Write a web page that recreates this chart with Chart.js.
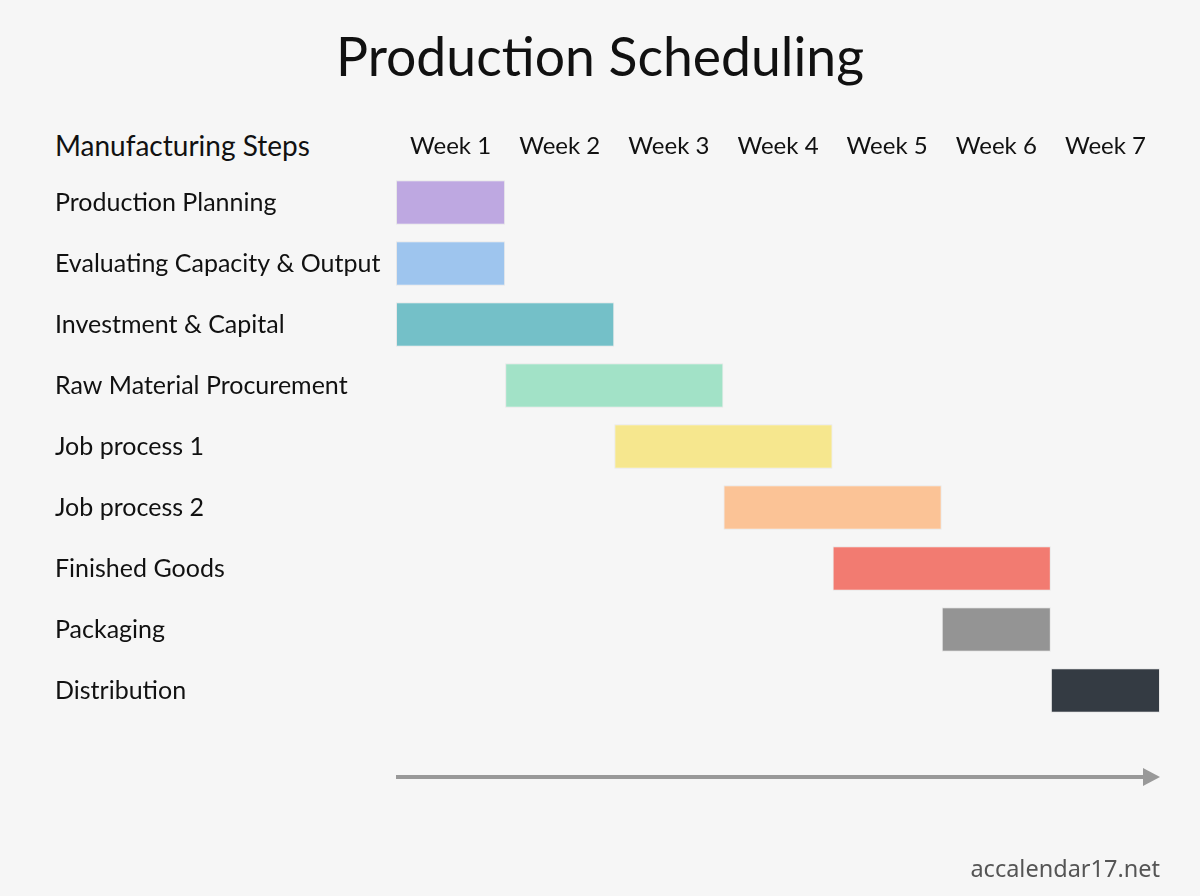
<!DOCTYPE html>
<html>
<head>
<meta charset="utf-8">
<title>Production Scheduling</title>
<script src="https://cdn.jsdelivr.net/npm/chart.js@4/dist/chart.umd.min.js"></script>
<style>
  body { margin: 0; background: #f6f6f6; }
  #wrap { position: relative; width: 1200px; height: 896px; font-family: Lato, 'Open Sans', sans-serif; color: #111; }
  #chart { position: absolute; left: 0; top: 0; }
  .title { position: absolute; top: 23px; left: 0; width: 1200px; text-align: center; font-size: 53.5px; font-weight: 400; }
  .head { position: absolute; top: 128px; left: 55px; font-size: 28px; }
  .mark { position: absolute; right: 40px; top: 852px; font-size: 23.5px; color: #555; font-family: 'Liberation Sans Narrow', 'Noto Sans', sans-serif; }
</style>
</head>
<body>
<div id="wrap">
  <div class="title">Production Scheduling</div>
  <div class="head">Manufacturing Steps</div>
  <canvas id="chart" width="1200" height="896"></canvas>
  <div class="mark">accalendar17.net</div>
</div>
<script>
/* ==================== */
/* 1  Data               */
/* ==================== */
const weekLabels = ['Week 1', 'Week 2', 'Week 3', 'Week 4', 'Week 5', 'Week 6', 'Week 7'];
const steps = [
  'Production Planning',
  'Evaluating Capacity & Output',
  'Investment & Capital',
  'Raw Material Procurement',
  'Job process 1',
  'Job process 2',
  'Finished Goods',
  'Packaging',
  'Distribution'
];
const startWeek = [0, 0, 0, 1, 2, 3, 4, 5, 6];
const endWeek   = [1, 1, 2, 3, 4, 5, 6, 6, 7];
const barColors = ['#bea8e1', '#9ec5ee', '#74c0c8', '#a2e2c7', '#f6e78e', '#fbc396', '#f27b71', '#949494', '#343b43'];

/* ==================== */
/* 2  Arrow plugin       */
/* ==================== */
const timeArrow = {
  id: 'timeArrow',
  afterDraw(chart) {
    const { ctx, scales: { x }, chartArea } = chart;
    const x0 = x.getPixelForValue(0);
    const x1 = x.getPixelForValue(weekLabels.length);
    const y = chartArea.bottom + 56;
    ctx.save();
    ctx.strokeStyle = '#999';
    ctx.fillStyle = '#999';
    ctx.lineWidth = 4;
    ctx.beginPath();
    ctx.moveTo(x0, y);
    ctx.lineTo(x1 - 14, y);
    ctx.stroke();
    ctx.beginPath();
    ctx.moveTo(x1, y);
    ctx.lineTo(x1 - 17, y - 9);
    ctx.lineTo(x1 - 17, y + 9);
    ctx.closePath();
    ctx.fill();
    ctx.restore();
  }
};

/* ==================== */
/* 3  Chart              */
/* ==================== */
new Chart(document.getElementById('chart'), {
  type: 'bar',
  data: {
    labels: steps,
    datasets: [{
      data: steps.map((s, i) => [startWeek[i], endWeek[i]]),
      backgroundColor: barColors,
      borderColor: 'rgba(0,0,0,0.06)',
      borderWidth: 1,
      borderSkipped: false,
      categoryPercentage: 1,
      barPercentage: 0.73
    }]
  },
  options: {
    indexAxis: 'y',
    responsive: false,
    animation: false,
    layout: { padding: { left: 55, right: 40, top: 120, bottom: 175 } },
    plugins: { legend: { display: false }, tooltip: { enabled: false } },
    scales: {
      x: {
        type: 'linear',
        min: 0,
        max: weekLabels.length,
        display: false
      },
      weeks: {
        type: 'category',
        axis: 'x',
        position: 'top',
        labels: weekLabels,
        offset: true,
        grid: { display: false, drawTicks: false },
        border: { display: false },
        ticks: { color: '#111', font: { family: 'Lato', size: 24 }, padding: 11 },
        afterFit: (scale) => { scale.height = 52; }
      },
      y: {
        grid: { display: false, drawTicks: false },
        border: { display: false },
        ticks: { color: '#111', crossAlign: 'far', font: { family: 'Lato', size: 25 } },
        afterFit: (scale) => { scale.width = 341; }
      }
    }
  },
  plugins: [timeArrow]
});
</script>
</body>
</html>
